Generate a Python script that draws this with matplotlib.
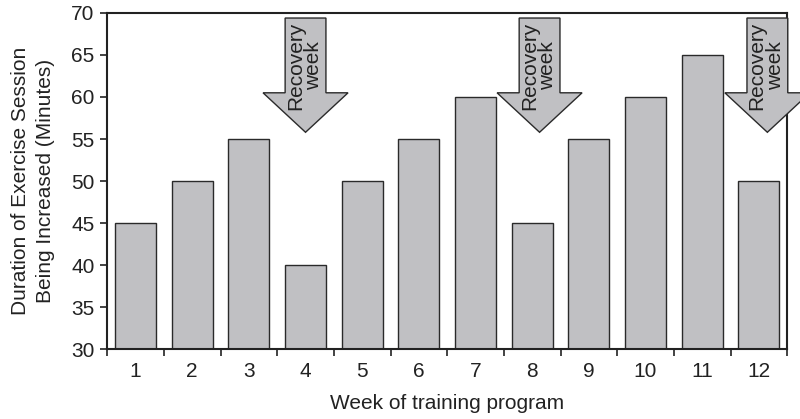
import numpy as np
import matplotlib
matplotlib.use("Agg")
import matplotlib.pyplot as plt
from matplotlib.patches import Polygon

plt.rcParams['font.family'] = ['Liberation Sans', 'DejaVu Sans']

weeks = [1, 2, 3, 4, 5, 6, 7, 8, 9, 10, 11, 12]
minutes = [45, 50, 55, 40, 50, 55, 60, 45, 55, 60, 65, 50]
recovery_weeks = [4, 8, 12]

bar_color = '#c0c0c3'
edge_color = '#2a2a2a'

fig = plt.figure(figsize=(8, 4.19), dpi=100)
ax = fig.add_axes([0.134, 0.167, 0.850, 0.802])

ax.bar(weeks, [m - 30 for m in minutes], bottom=30, width=0.72,
       color=bar_color, edgecolor=edge_color, linewidth=1.0, zorder=2)

# block arrows marking the recovery weeks (nudged a bit right of the bar)
nudge = {4: 0.0, 8: 0.13, 12: 0.15}
shaft_half = 0.36
head_half = 0.75
top = 69.4
head_base = 60.5
tip = 55.8
for w in recovery_weeks:
    x = w + nudge[w]
    pts = [(x - shaft_half, top), (x + shaft_half, top),
           (x + shaft_half, head_base), (x + head_half, head_base),
           (x, tip), (x - head_half, head_base),
           (x - shaft_half, head_base)]
    ax.add_patch(Polygon(pts, closed=True, facecolor=bar_color,
                         edgecolor=edge_color, linewidth=1.0,
                         clip_on=False, zorder=3))
    ax.text(x - 0.02, top - 0.4, 'Recovery\nweek', rotation=90,
            ha='center', va='top', fontsize=15, linespacing=0.95,
            color='#222222', zorder=4, clip_on=False)

ax.set_xlim(0.5, 12.5)
ax.set_ylim(30, 70)
ax.set_yticks(np.arange(30, 71, 5))
ax.set_xticks(weeks)
ax.set_xticks(np.arange(0.5, 13, 1), minor=True)
ax.tick_params(axis='x', which='major', length=0, pad=9, labelsize=15,
               colors='#222222')
ax.tick_params(axis='x', which='minor', length=5, width=1.2,
               direction='out', colors='#222222')
ax.tick_params(axis='y', length=5, width=1.2, direction='out',
               labelsize=15, pad=4, colors='#222222')
for s in ax.spines.values():
    s.set_linewidth(1.5)
    s.set_color('#222222')

ax.set_xlabel('Week of training program', fontsize=15, labelpad=10,
              color='#222222')
ax.set_ylabel('Duration of Exercise Session\nBeing Increased (Minutes)',
              fontsize=15, labelpad=12, linespacing=1.35, color='#222222')

fig.savefig('out.png', dpi=100)
